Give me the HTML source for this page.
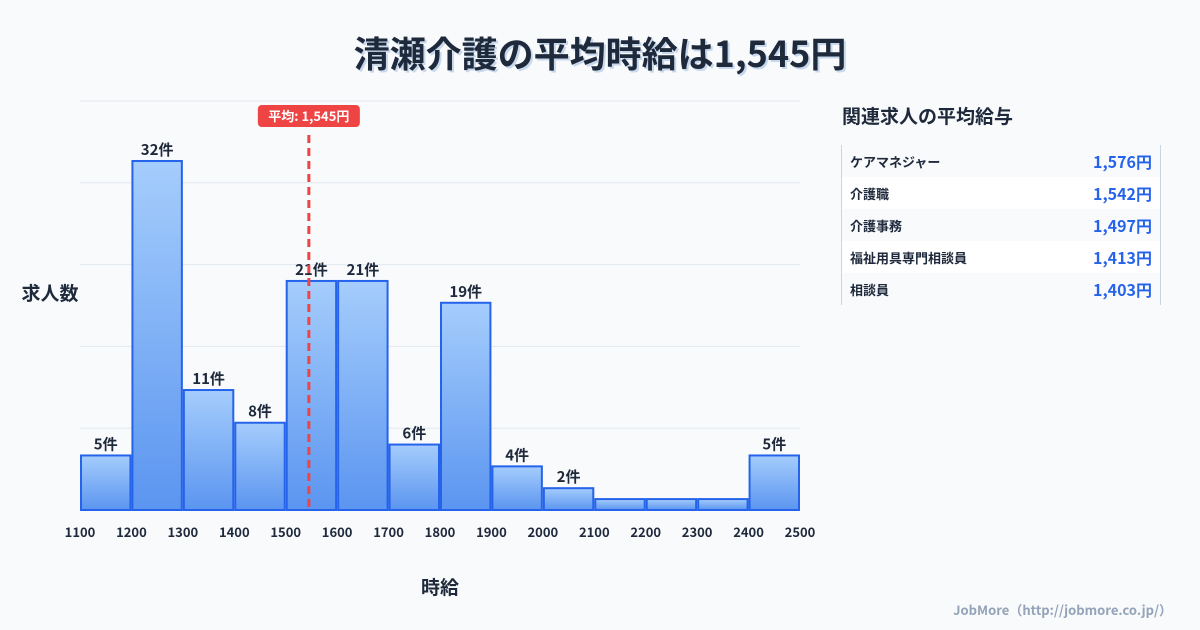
<!DOCTYPE html>
<html><head><meta charset="utf-8">
<style>
body{margin:0;width:1200px;height:630px;background:#f8fafc;font-family:"Noto Sans CJK JP","Liberation Sans",sans-serif;position:relative;overflow:hidden;color:#1e293b}
.title{position:absolute;top:26px;left:0;width:1200px;text-align:center;font-size:36px;font-weight:700;color:#1e293b;text-shadow:2px 2px 0 #c7d7ec;font-family:"Noto Sans CJK JP",sans-serif}
.side-title{position:absolute;left:842px;top:102px;font-size:19px;font-weight:700;font-family:"Noto Sans CJK JP",sans-serif}
.tbl{position:absolute;left:841px;top:145px;width:318px;border-left:1px solid #cbd5e1;border-right:1px solid #cbd5e1}
.row{height:32px;display:flex;justify-content:space-between;align-items:center;padding:0 8px;font-family:"Noto Sans CJK JP",sans-serif}
.row:nth-child(even){background:#fff}
.row .n{font-size:13px;font-weight:700;color:#1e293b}
.row .v{font-size:16px;font-weight:700;color:#2563eb}
.foot{position:absolute;right:28px;top:600px;font-size:13px;color:#94a3b8;font-weight:700;font-family:"Noto Sans CJK JP",sans-serif}
svg text{font-family:"Noto Sans CJK JP","Liberation Sans",sans-serif}
</style></head><body>
<div class="title">清瀬介護の平均時給は1,545円</div>
<svg id="chart" width="830" height="630" style="position:absolute;left:0;top:0">
<defs><linearGradient id="g" x1="0" y1="0" x2="0" y2="1"><stop offset="0" stop-color="#a5cdfc"/><stop offset="1" stop-color="#5b95f0"/></linearGradient></defs>
</svg>
<div class="side-title">関連求人の平均給与</div>
<div class="tbl">
<div class="row"><span class="n">ケアマネジャー</span><span class="v">1,576円</span></div>
<div class="row"><span class="n">介護職</span><span class="v">1,542円</span></div>
<div class="row"><span class="n">介護事務</span><span class="v">1,497円</span></div>
<div class="row"><span class="n">福祉用具専門相談員</span><span class="v">1,413円</span></div>
<div class="row"><span class="n">相談員</span><span class="v">1,403円</span></div>
</div>
<div class="foot">JobMore（http://jobmore.co.jp/）</div>
<script>
const binStarts=[1100,1200,1300,1400,1500,1600,1700,1800,1900,2000,2100,2200,2300,2400];
const counts=[5,32,11,8,21,21,6,19,4,2,1,1,1,5];
const xTicks=[1100,1200,1300,1400,1500,1600,1700,1800,1900,2000,2100,2200,2300,2400,2500];
const meanValue=1545;
const yGrid=[0,7.5,15,22.5,30,37.5];
const NS='http://www.w3.org/2000/svg';
const svg=document.getElementById('chart');
const X0=80,X1=800,Y0=510,Y1=101,XMIN=1100,XMAX=2500,YMAX=37.5;
const xs=v=>X0+(v-XMIN)/(XMAX-XMIN)*(X1-X0);
const ys=v=>Y0-v/YMAX*(Y0-Y1);
function mk(t,a,txt){const e=document.createElementNS(NS,t);for(const k in a)e.setAttribute(k,a[k]);if(txt!=null)e.textContent=txt;svg.appendChild(e);return e;}
yGrid.forEach(v=>{const l=mk('line',{x1:X0,x2:X1,y1:ys(v),y2:ys(v),stroke:'#e2e8f0','stroke-width':1});

});
binStarts.forEach((b,i)=>{const x=xs(b)+1,w=xs(b+100)-xs(b)-2,y=ys(counts[i]);
const r=mk('rect',{x:x,y:y,width:w,height:Y0-y,fill:'url(#g)',stroke:'#2563eb','stroke-width':2});


if(counts[i]>1){const t=mk('text',{x:x+w/2,y:y-6,'text-anchor':'middle','font-size':15,'font-weight':700,fill:'#1e293b'},counts[i]+'件');

}
});
xTicks.forEach(v=>{const t=mk('text',{x:xs(v),y:537,'text-anchor':'middle','font-size':13,'font-weight':700,fill:'#1e293b'},v);

});
const mx=xs(meanValue);
const ml=mk('line',{x1:mx,x2:mx,y1:135,y2:Y0,stroke:'#ef4444','stroke-width':3,'stroke-dasharray':'8,5'});


const mb=mk('rect',{x:mx-51,y:105,width:102,height:22,rx:4,fill:'#ef4444'});


const mt=mk('text',{x:mx,y:121,'text-anchor':'middle','font-size':13,'font-weight':700,fill:'#fff'},'平均: 1,545円');


const yt=mk('text',{x:50,y:300,'text-anchor':'middle','font-size':19,'font-weight':700,fill:'#1e293b'},'求人数');


const xt=mk('text',{x:440,y:594,'text-anchor':'middle','font-size':19,'font-weight':700,fill:'#1e293b'},'時給');


</script>
</body></html>
